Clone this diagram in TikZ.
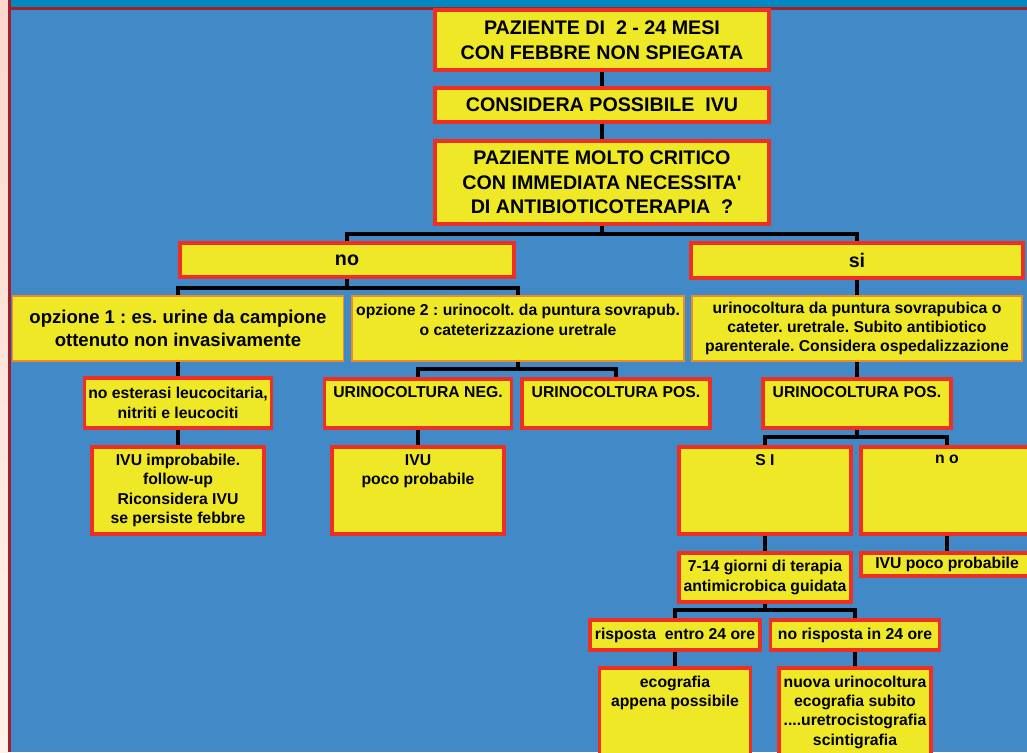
\documentclass[tikz,border=0pt]{standalone}
\usepackage{fontspec}
\setmainfont{Liberation Sans}
\usepackage{tikz}
\definecolor{chartblue}{RGB}{65,137,199}
\definecolor{bandblue}{RGB}{0,136,192}
\definecolor{framered}{RGB}{165,30,45}
\definecolor{boxyellow}{RGB}{238,232,38}
\definecolor{boxred}{RGB}{238,48,36}
\definecolor{boxorange}{RGB}{236,140,40}
\definecolor{stripA}{RGB}{253,216,204}
\definecolor{stripB}{RGB}{254,243,232}
\frenchspacing

\begin{document}
\begin{tikzpicture}[x=0.025cm, y=-0.025cm,
    box/.style={draw=boxred, line width=2.2pt, fill=boxyellow, inner sep=0pt,
      align=center, font=\fontsize{11.2}{13.8}\selectfont\bfseries},
    softbox/.style={box, draw=boxorange, line width=1pt},
    big/.style={font=\fontsize{14}{17.5}\selectfont\bfseries},
    sz/.style 2 args={minimum width=#1*0.025cm, minimum height=#2*0.025cm},
    toptxt/.style={label={[anchor=north, align=center, yshift=-3pt,
      font=\fontsize{11.2}{13.8}\selectfont\bfseries]north:{#1}}},
    link/.style={line width=2.6pt, line join=miter}
  ]
    \useasboundingbox (0,0) rectangle (1027,752);
    \clip (0,0) rectangle (1027,752);

    %% backdrop and frame
    \fill[chartblue] (0,0) rectangle (1027,752);
    \shade[top color=stripA, bottom color=stripB] (0,0) rectangle (8,752);
    \fill[bandblue] (11,0) rectangle (1027,7);
    \fill[framered] (8,7) rectangle (1027,10);
    \fill[framered] (8,0) rectangle (11,752);

    %% top of the tree
    \node[box, big, sz={334}{60}] (pz) at (602,40)
      {PAZIENTE DI \ 2 - 24 MESI\\CON FEBBRE NON SPIEGATA};
    \node[box, big, sz={334}{34}] (ivu) at (602,105) {CONSIDERA POSSIBILE \ IVU};
    \node[box, big, sz={334}{83}] (crit) at (602,182.5)
      {PAZIENTE MOLTO CRITICO\\CON IMMEDIATA NECESSITA\textquotesingle\\DI ANTIBIOTICOTERAPIA \ ?};
    \node[box, big, sz={334}{34}] (no) at (347,260) {no};
    \node[box, big, sz={332}{35}] (si) at (857,260.5) {si};

    %% branch no
    \node[softbox, sz={331}{65}, font=\fontsize{13.2}{16.4}\selectfont\bfseries] (op1) at (178,328.5)
      {opzione 1 : es. urine da campione\\ottenuto non invasivamente};
    \node[softbox, sz={332}{65},
      toptxt={opzione 2 : urinocolt. da puntura sovrapub.\\o cateterizzazione uretrale}] (op2) at (518,328.5) {};
    \node[box, sz={187}{50}] (est) at (178,403)
      {no esterasi leucocitaria,\\nitriti e leucociti};
    \node[box, sz={172}{87}] (impr) at (178,490.5)
      {IVU improbabile.\\follow-up\\Riconsidera IVU\\se persiste febbre};
    \node[box, sz={187}{49}, toptxt={URINOCOLTURA NEG.}] (neg) at (418,403.5) {};
    \node[box, sz={188}{49}, toptxt={URINOCOLTURA POS.}] (posa) at (616,403.5) {};
    \node[box, sz={172}{87}, toptxt={IVU\\poco probabile}] (ivpp) at (418,490.5) {};

    %% branch si
    \node[softbox, sz={330}{65}] (sic) at (857,328.5)
      {urinocoltura da puntura sovrapubica o\\cateter. uretrale. Subito antibiotico\\parenterale. Considera ospedalizzazione};
    \node[box, sz={188}{49}, toptxt={URINOCOLTURA POS.}] (posb) at (857,403.5) {};
    \node[box, sz={172}{87}, toptxt={S I}] (sib) at (765,490.5) {};
    \node[box, sz={172}{87}, toptxt={n o}] (nob) at (947,490.5) {};
    \node[box, sz={172}{49}] (ter) at (765,577.5)
      {7-14 giorni di terapia\\antimicrobica guidata};
    \node[box, sz={172}{23}] (ivpq) at (947,564.5) {IVU poco probabile};
    \node[box, sz={170}{30}] (risp) at (675,635) {risposta \ entro 24 ore};
    \node[box, sz={169}{30}] (norisp) at (855,635) {no risposta in 24 ore};
    \node[box, sz={151}{102}, toptxt={ecografia\\appena possibile}] (eco) at (675,719) {};
    \node[box, sz={152}{102},
      toptxt={nuova urinocoltura\\ecografia subito\\....uretrocistografia\\scintigrafia}] (nuova) at (855,719) {};

    %% junctions
    \coordinate (j1) at (602,234);
    \coordinate (j2) at (347,288);
    \coordinate (j3) at (518,369);
    \coordinate (j4) at (857,437);
    \coordinate (j5) at (765,610);

    %% connectors
    \draw[link] (pz.south) -- (ivu.north);
    \draw[link] (ivu.south) -- (crit.north);
    \draw[link] (crit.south) -- (j1);
    \draw[link] (no.north) |- (j1) -| (si.north);
    \draw[link] (no.south) -- (j2);
    \draw[link] (op1.north) |- (j2) -| (op2.north);
    \draw[link] (si.south) -- (sic.north);
    \draw[link] (op1.south) -- (est.north);
    \draw[link] (est.south) -- (impr.north);
    \draw[link] (op2.south) -- (j3);
    \draw[link] (neg.north) |- (j3) -| (posa.north);
    \draw[link] (neg.south) -- (ivpp.north);
    \draw[link] (sic.south) -- (posb.north);
    \draw[link] (posb.south) -- (j4);
    \draw[link] (sib.north) |- (j4) -| (nob.north);
    \draw[link] (sib.south) -- (ter.north);
    \draw[link] (nob.south) -- (ivpq.north);
    \draw[link] (ter.south) -- (j5);
    \draw[link] (risp.north) |- (j5) -| (norisp.north);
    \draw[link] (risp.south) -- (eco.north);
    \draw[link] (norisp.south) -- (nuova.north);
\end{tikzpicture}
\end{document}
